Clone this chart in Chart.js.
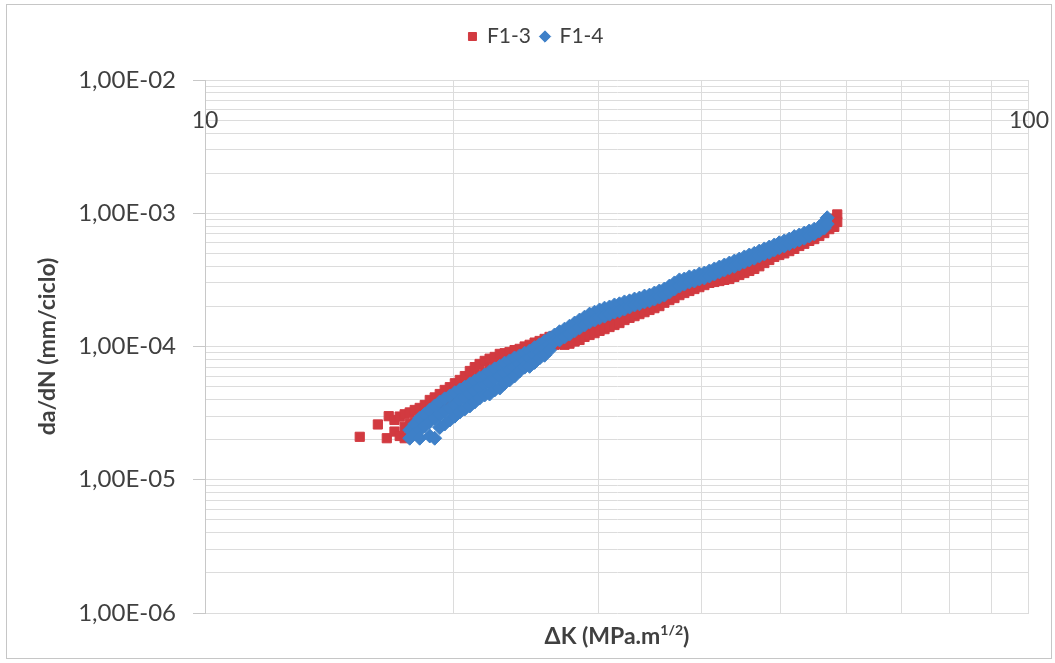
<!DOCTYPE html>
<html>
<head>
<meta charset="utf-8">
<script src="https://cdn.jsdelivr.net/npm/chart.js@4.4.0/dist/chart.umd.min.js"></script>
<style>
  body { margin: 0; background: #fff; }
  #wrap { width: 1055px; height: 663px; }
</style>
</head>
<body>
<div id="wrap"><canvas id="c" width="1055" height="663"></canvas></div>
<script>
// series names
var seriesNames = ["F1-3", "F1-4"];

// F1-3 : [deltaK, da/dN]
var f13Points = [
    [15.41, 2.1e-5], [16.21, 2.6e-5], [16.62, 2.05e-5], [16.71, 3.0e-5],
    [16.98, 2.81e-5], [16.98, 2.3e-5], [17.23, 2.98e-5], [17.23, 2.13e-5],
    [17.47, 3.1e-5], [17.47, 2.5e-5], [17.47, 2.05e-5],
    [17.72, 3.2e-5], [17.72, 2.62e-5], [17.72, 2.13e-5],
    [17.97, 3.34e-5], [17.97, 2.72e-5], [18.22, 3.46e-5], [18.22, 2.81e-5],
    [18.48, 3.64e-5], [18.48, 3.0e-5], [18.74, 3.97e-5], [18.74, 3.22e-5],
    [19.0, 4.15e-5], [19.0, 3.46e-5], [19.27, 4.4e-5], [19.27, 3.6e-5],
    [19.54, 4.72e-5], [19.54, 3.83e-5], [19.82, 4.95e-5], [19.82, 4.1e-5],
    [20.1, 5.3e-5], [20.1, 4.33e-5], [20.38, 5.61e-5], [20.38, 4.64e-5],
    [20.67, 6.0e-5], [20.67, 4.88e-5], [20.96, 6.55e-5], [20.96, 5.23e-5],
    [21.25, 7.0e-5], [21.25, 5.61e-5], [21.54, 7.4e-5], [21.54, 6.0e-5],
    [21.85, 7.8e-5], [21.85, 6.3e-5], [22.15, 8.1e-5], [22.15, 6.66e-5],
    [22.47, 8.35e-5], [22.47, 6.9e-5], [22.79, 8.8e-5], [22.79, 7.1e-5],
    [23.1, 8.9e-5], [23.1, 7.5e-5], [23.42, 9.1e-5], [23.42, 7.9e-5],
    [23.75, 9.4e-5], [23.75, 8.2e-5], [24.09, 9.6e-5], [24.09, 8.5e-5],
    [24.43, 1.0e-4], [24.43, 8.8e-5], [24.77, 1.03e-4], [24.77, 9.1e-5],
    [25.12, 1.07e-4], [25.12, 9.4e-5], [25.47, 1.1e-4], [25.47, 9.8e-5],
    [25.83, 1.14e-4], [25.83, 1.0e-4], [26.19, 1.18e-4], [26.19, 1.02e-4],
    [26.56, 1.2e-4], [26.56, 1.03e-4], [26.93, 1.22e-4], [26.93, 1.05e-4],
    [27.31, 1.2e-4], [27.31, 1.03e-4], [27.69, 1.22e-4], [27.69, 1.05e-4],
    [28.09, 1.26e-4], [28.09, 1.09e-4], [28.48, 1.31e-4], [28.48, 1.12e-4],
    [28.88, 1.38e-4], [28.88, 1.18e-4], [29.29, 1.42e-4], [29.29, 1.22e-4],
    [29.7, 1.47e-4], [29.7, 1.26e-4], [30.12, 1.53e-4], [30.12, 1.31e-4],
    [30.54, 1.58e-4], [30.54, 1.35e-4], [30.97, 1.64e-4], [30.97, 1.4e-4],
    [31.4, 1.69e-4], [31.4, 1.45e-4], [31.84, 1.75e-4], [31.84, 1.5e-4],
    [32.29, 1.81e-4], [32.29, 1.58e-4], [32.75, 1.88e-4], [32.75, 1.64e-4],
    [33.21, 1.94e-4], [33.21, 1.69e-4], [33.67, 2.01e-4], [33.67, 1.75e-4],
    [34.15, 2.09e-4], [34.15, 1.81e-4], [34.63, 2.16e-4], [34.63, 1.88e-4],
    [35.11, 2.23e-4], [35.11, 1.94e-4], [35.6, 2.31e-4], [35.6, 2.01e-4],
    [36.1, 2.39e-4], [36.1, 2.13e-4], [36.61, 2.47e-4], [36.61, 2.23e-4],
    [37.13, 2.56e-4], [37.13, 2.31e-4], [37.65, 2.7e-4], [37.65, 2.43e-4],
    [38.17, 2.79e-4], [38.17, 2.52e-4], [38.71, 2.89e-4], [38.71, 2.61e-4],
    [39.26, 3.0e-4], [39.26, 2.7e-4], [39.81, 3.05e-4], [39.81, 2.79e-4],
    [40.37, 3.16e-4], [40.37, 2.89e-4], [40.94, 3.21e-4], [40.94, 3.0e-4],
    [41.51, 3.27e-4], [41.51, 3.05e-4], [42.1, 3.33e-4], [42.1, 3.1e-4],
    [42.69, 3.38e-4], [42.69, 3.16e-4], [43.29, 3.44e-4], [43.29, 3.21e-4],
    [43.9, 3.56e-4], [43.9, 3.33e-4], [44.51, 3.69e-4], [44.51, 3.44e-4],
    [45.14, 3.82e-4], [45.14, 3.56e-4], [45.77, 4.0e-4], [45.77, 3.69e-4],
    [46.41, 4.16e-4], [46.41, 3.82e-4], [47.07, 4.38e-4], [47.07, 4.0e-4],
    [47.73, 4.6e-4], [47.73, 4.23e-4], [48.4, 4.86e-4], [48.4, 4.46e-4],
    [49.08, 5.1e-4], [49.08, 4.7e-4], [49.77, 5.3e-4], [49.77, 4.86e-4],
    [50.47, 5.5e-4], [50.47, 5.0e-4], [51.18, 5.68e-4], [51.18, 5.2e-4],
    [51.9, 5.9e-4], [51.9, 5.4e-4], [52.63, 6.1e-4], [52.63, 5.68e-4],
    [53.37, 6.3e-4], [53.37, 5.9e-4], [54.12, 6.68e-4], [54.12, 6.2e-4],
    [54.88, 6.87e-4], [54.88, 6.4e-4], [55.66, 7.28e-4], [55.66, 6.75e-4],
    [56.44, 7.6e-4], [56.44, 7.1e-4], [57.23, 8.16e-4], [57.23, 7.6e-4],
    [58.04, 9.1e-4], [58.04, 7.9e-4], [58.52, 9.8e-4], [58.52, 8.6e-4]
];

// F1-4 : [deltaK, da/dN]
var f14Points = [
    [17.72, 2.36e-5], [17.72, 2.05e-5], [17.97, 2.62e-5], [17.97, 2.21e-5],
    [18.22, 2.9e-5], [18.22, 2.36e-5], [18.22, 2.05e-5],
    [18.48, 3.1e-5], [18.48, 2.53e-5],
    [18.74, 3.34e-5], [18.74, 2.72e-5], [18.74, 2.13e-5],
    [19.0, 3.58e-5], [19.0, 2.9e-5], [19.0, 2.05e-5],
    [19.27, 3.83e-5], [19.27, 3.1e-5], [19.27, 2.47e-5],
    [19.54, 4.05e-5], [19.54, 3.28e-5], [19.54, 2.62e-5],
    [19.82, 4.25e-5], [19.82, 3.46e-5], [19.82, 2.81e-5],
    [20.1, 4.5e-5], [20.1, 3.64e-5], [20.1, 3.0e-5],
    [20.38, 4.72e-5], [20.38, 3.97e-5], [20.38, 3.22e-5],
    [20.67, 4.95e-5], [20.67, 4.15e-5], [20.67, 3.4e-5],
    [20.96, 5.23e-5], [20.96, 4.4e-5], [20.96, 3.58e-5],
    [21.25, 5.5e-5], [21.25, 4.64e-5], [21.25, 3.83e-5],
    [21.54, 5.8e-5], [21.54, 4.88e-5], [21.54, 4.1e-5],
    [21.85, 6.11e-5], [21.85, 5.14e-5], [21.85, 4.33e-5],
    [22.15, 6.45e-5], [22.15, 5.4e-5], [22.15, 4.4e-5],
    [22.47, 6.8e-5], [22.47, 5.7e-5], [22.47, 4.72e-5],
    [22.79, 7.1e-5], [22.79, 6.0e-5], [22.79, 4.88e-5],
    [23.1, 7.5e-5], [23.1, 6.3e-5], [23.1, 5.3e-5],
    [23.42, 7.8e-5], [23.42, 6.66e-5], [23.42, 5.61e-5],
    [23.75, 8.2e-5], [23.75, 7.0e-5], [23.75, 6.0e-5],
    [24.09, 8.5e-5], [24.09, 7.4e-5], [24.09, 6.55e-5],
    [24.43, 8.9e-5], [24.43, 7.8e-5], [24.43, 7.0e-5],
    [24.77, 9.25e-5], [24.77, 8.2e-5], [24.77, 7.1e-5],
    [25.12, 9.8e-5], [25.12, 8.6e-5], [25.12, 7.6e-5],
    [25.47, 1.03e-4], [25.47, 9.1e-5], [25.47, 8.2e-5],
    [25.83, 1.09e-4], [25.83, 9.6e-5], [25.83, 8.6e-5],
    [26.19, 1.16e-4], [26.19, 1.03e-4], [26.19, 9.4e-5],
    [26.56, 1.22e-4], [26.56, 1.09e-4], [26.93, 1.29e-4], [26.93, 1.12e-4],
    [27.31, 1.35e-4], [27.31, 1.18e-4], [27.69, 1.42e-4], [27.69, 1.24e-4],
    [28.09, 1.5e-4], [28.09, 1.31e-4], [28.48, 1.58e-4], [28.48, 1.38e-4],
    [28.88, 1.66e-4], [28.88, 1.45e-4], [29.29, 1.75e-4], [29.29, 1.53e-4],
    [29.7, 1.81e-4], [29.7, 1.58e-4], [30.12, 1.88e-4], [30.12, 1.64e-4],
    [30.54, 1.94e-4], [30.54, 1.69e-4], [30.97, 1.98e-4], [30.97, 1.75e-4],
    [31.4, 2.05e-4], [31.4, 1.81e-4], [31.84, 2.09e-4], [31.84, 1.85e-4],
    [32.29, 2.16e-4], [32.29, 1.91e-4], [32.75, 2.2e-4], [32.75, 1.98e-4],
    [33.21, 2.27e-4], [33.21, 2.05e-4], [33.67, 2.31e-4], [33.67, 2.09e-4],
    [34.15, 2.39e-4], [34.15, 2.16e-4], [34.63, 2.43e-4], [34.63, 2.2e-4],
    [35.11, 2.52e-4], [35.11, 2.27e-4], [35.6, 2.61e-4], [35.6, 2.35e-4],
    [36.1, 2.7e-4], [36.1, 2.43e-4], [36.61, 2.84e-4], [36.61, 2.56e-4],
    [37.13, 3.0e-4], [37.13, 2.7e-4], [37.65, 3.16e-4], [37.65, 2.84e-4],
    [38.17, 3.21e-4], [38.17, 2.94e-4], [38.71, 3.33e-4], [38.71, 3.05e-4],
    [39.26, 3.38e-4], [39.26, 3.1e-4], [39.81, 3.5e-4], [39.81, 3.21e-4],
    [40.37, 3.56e-4], [40.37, 3.27e-4], [40.94, 3.69e-4], [40.94, 3.38e-4],
    [41.51, 3.82e-4], [41.51, 3.5e-4], [42.1, 3.95e-4], [42.1, 3.63e-4],
    [42.69, 4.09e-4], [42.69, 3.75e-4], [43.29, 4.23e-4], [43.29, 3.89e-4],
    [43.9, 4.38e-4], [43.9, 4.0e-4], [44.51, 4.53e-4], [44.51, 4.16e-4],
    [45.14, 4.7e-4], [45.14, 4.3e-4], [45.77, 4.86e-4], [45.77, 4.46e-4],
    [46.41, 5.0e-4], [46.41, 4.6e-4], [47.07, 5.2e-4], [47.07, 4.78e-4],
    [47.73, 5.4e-4], [47.73, 4.95e-4], [48.4, 5.58e-4], [48.4, 5.1e-4],
    [49.08, 5.78e-4], [49.08, 5.3e-4], [49.77, 6.0e-4], [49.77, 5.5e-4],
    [50.47, 6.2e-4], [50.47, 5.68e-4], [51.18, 6.4e-4], [51.18, 5.9e-4],
    [51.9, 6.68e-4], [51.9, 6.1e-4], [52.63, 6.87e-4], [52.63, 6.3e-4],
    [53.37, 7.1e-4], [53.37, 6.5e-4], [54.12, 7.36e-4], [54.12, 6.75e-4],
    [54.88, 7.6e-4], [54.88, 7.0e-4], [55.66, 7.9e-4], [55.66, 7.36e-4],
    [56.44, 8.6e-4], [56.44, 7.74e-4], [56.9, 9.25e-4], [56.9, 8.3e-4]
];

// axis ticks
var xTickValues = [10, 20, 30, 40, 50, 60, 70, 80, 90, 100];
var xTickLabels = [10, 100];
var yDecades = [1e-6, 1e-5, 1e-4, 1e-3, 1e-2];
var yMinorSteps = [1, 2, 3, 4, 5, 6, 7, 8, 9];

var xTitleMain = "ΔK (MPa.m";
var xTitleSup = "1/2";
var yTitle = "da/dN (mm/ciclo)";

var textColor = "#404040";
var gridColor = "#dcdcdc";

function buildYTicks() {
    var ticks = [];
    for (var i = 0; i < yDecades.length - 1; i++) {
        for (var j = 0; j < yMinorSteps.length; j++) {
            var v = Number((yDecades[i] * yMinorSteps[j]).toPrecision(3));
            ticks.push({ value: v, major: j === 0 });
        }
    }
    ticks.push({ value: yDecades[yDecades.length - 1], major: true });
    return ticks;
}

function formatSci(v) {
    var exp = Math.round(Math.log10(v));
    var mant = v / Math.pow(10, exp);
    var sign = exp < 0 ? "-" : "+";
    var e = String(Math.abs(exp));
    if (e.length < 2) e = "0" + e;
    return mant.toFixed(2).replace(".", ",") + "E" + sign + e;
}

function toXY(list) {
    return list.map(function (p) { return { x: p[0], y: p[1] }; });
}

var framePlugin = {
    id: "frame",
    beforeDraw: function (chart) {
        var ctx = chart.ctx;
        ctx.save();
        ctx.fillStyle = "#ffffff";
        ctx.fillRect(0, 0, chart.width, chart.height);
        ctx.strokeStyle = "#c6c6c6";
        ctx.lineWidth = 1;
        ctx.strokeRect(6.5, 4.5, 1045, 654);
        ctx.restore();
    }
};

var xTitlePlugin = {
    id: "xTitle",
    afterDraw: function (chart) {
        var ctx = chart.ctx;
        var area = chart.chartArea;
        ctx.save();
        ctx.fillStyle = textColor;
        ctx.textBaseline = "alphabetic";
        ctx.textAlign = "left";
        ctx.font = "bold 23px Lato";
        var w1 = ctx.measureText(xTitleMain).width;
        var w3 = ctx.measureText(")").width;
        ctx.font = "bold 14px Lato";
        var w2 = ctx.measureText(xTitleSup).width;
        var x = (area.left + area.right) / 2 - (w1 + w2 + w3) / 2;
        var y = 644;
        ctx.font = "bold 23px Lato";
        ctx.fillText(xTitleMain, x, y);
        ctx.font = "bold 14px Lato";
        ctx.fillText(xTitleSup, x + w1, y - 9);
        ctx.font = "bold 23px Lato";
        ctx.fillText(")", x + w1 + w2, y);
        ctx.restore();
    }
};

var legendGap = {
    id: "legendGap",
    beforeInit: function (chart) {
        var origFit = chart.legend.fit;
        chart.legend.fit = function () {
            origFit.bind(chart.legend)();
            this.height += 23;
        };
    }
};

var ctx = document.getElementById("c").getContext("2d");
var chart = new Chart(ctx, {
    type: "scatter",
    data: {
        datasets: [
            {
                label: seriesNames[0],
                data: toXY(f13Points),
                pointStyle: "rect",
                pointRadius: 6.5,
                pointHoverRadius: 6.5,
                backgroundColor: "rgb(210, 58, 64)",
                borderColor: "rgb(210, 58, 64)",
                borderWidth: 1,
                order: 2
            },
            {
                label: seriesNames[1],
                data: toXY(f14Points),
                pointStyle: "rectRot",
                pointRadius: 7,
                pointHoverRadius: 7,
                backgroundColor: "rgb(62, 128, 200)",
                borderColor: "rgb(62, 128, 200)",
                borderWidth: 1,
                order: 1
            }
        ]
    },
    options: {
        responsive: false,
        animation: false,
        layout: { padding: { top: 16, left: 42, right: 25, bottom: 50 } },
        plugins: {
            tooltip: { enabled: false },
            legend: {
                position: "top",
                labels: {
                    usePointStyle: true,
                    boxWidth: 8,
                    boxHeight: 8,
                    padding: 10,
                    color: textColor,
                    font: { family: "Lato", size: 21 },
                    sort: function (a, b) { return a.datasetIndex - b.datasetIndex; }
                }
            }
        },
        scales: {
            x: {
                type: "logarithmic",
                min: 10,
                max: 100,
                position: { y: 7e-3 },
                afterBuildTicks: function (scale) {
                    scale.ticks = xTickValues.map(function (v) {
                        return { value: v, major: xTickLabels.indexOf(v) >= 0 };
                    });
                },
                grid: { color: gridColor, drawTicks: false },
                border: { color: gridColor },
                ticks: {
                    autoSkip: false,
                    maxRotation: 0,
                    padding: 6,
                    color: textColor,
                    font: { family: "Lato", size: 23 },
                    callback: function (value) {
                        return xTickLabels.indexOf(value) >= 0 ? String(value) : "";
                    }
                }
            },
            y: {
                type: "logarithmic",
                min: 1e-6,
                max: 1e-2,
                position: "left",
                afterBuildTicks: function (scale) {
                    scale.ticks = buildYTicks();
                },
                afterFit: function (scale) {
                    scale.width = 163;
                },
                grid: {
                    color: gridColor,
                    tickLength: 12,
                    tickColor: function (c) {
                        return c.tick && c.tick.major ? "#c8c8c8" : "rgba(0,0,0,0)";
                    }
                },
                border: { color: "#c8c8c8" },
                title: {
                    display: true,
                    text: yTitle,
                    color: textColor,
                    font: { family: "Lato", size: 23, weight: "bold" },
                    padding: { top: -8, bottom: 0 }
                },
                ticks: {
                    autoSkip: false,
                    padding: 17,
                    color: textColor,
                    font: { family: "Lato", size: 24 },
                    callback: function (value, index, ticks) {
                        return ticks[index].major ? formatSci(value) : "";
                    }
                }
            }
        }
    },
    plugins: [framePlugin, xTitlePlugin, legendGap]
});
</script>
</body>
</html>
